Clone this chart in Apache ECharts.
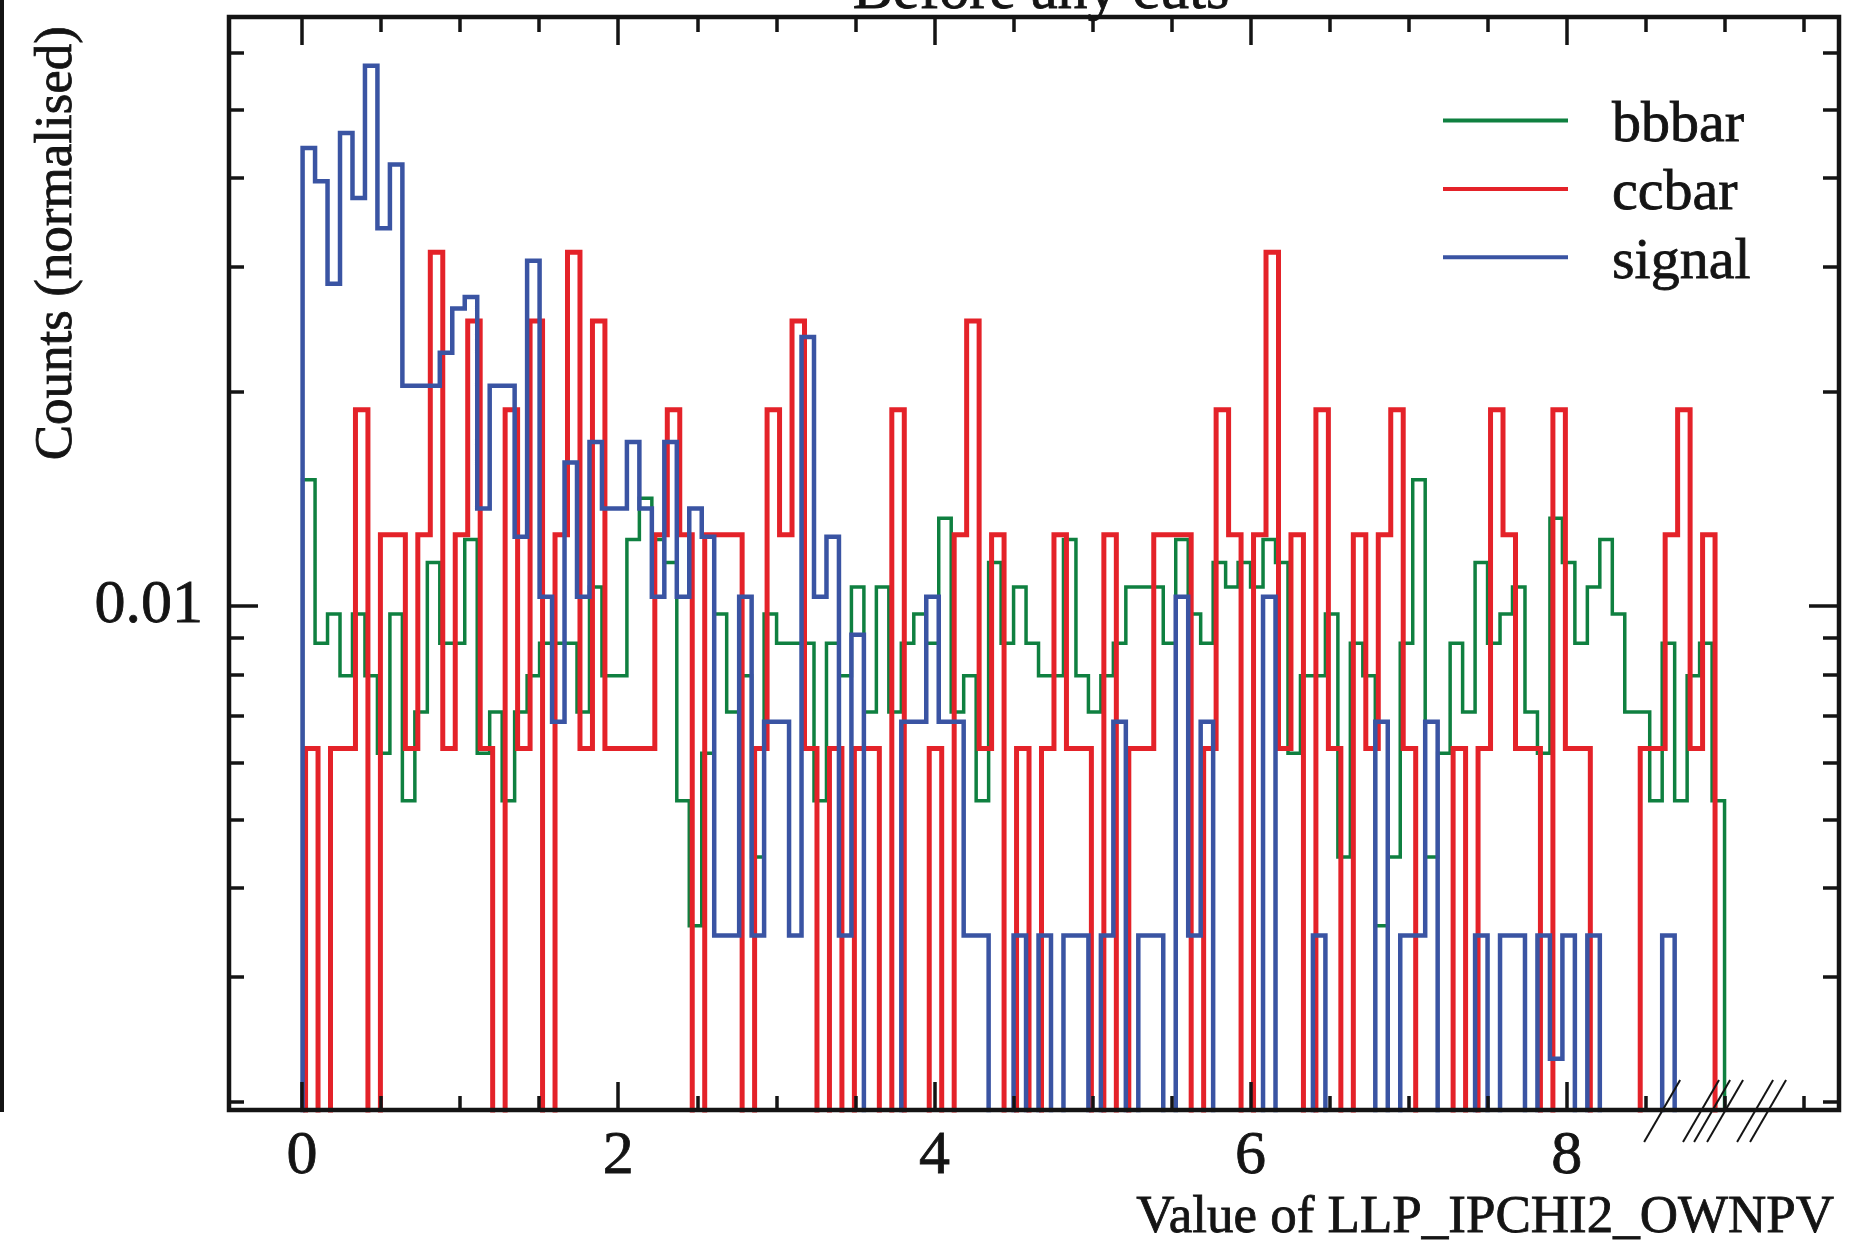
<!DOCTYPE html>
<html>
<head>
<meta charset="utf-8">
<style>
  html, body { margin: 0; padding: 0; background: #ffffff; }
  #chart { width: 1855px; height: 1249px; }
</style>
<script src="https://cdn.jsdelivr.net/npm/echarts@6/dist/echarts.min.js"></script>
</head>
<body>
<div id="chart"></div>
<script>
// ---- Histogram binning ----------------------------------------------------
const binWidth = 0.0789;
const bbbarStart = 0.0035;
const ccbarStart = 0.0223;
const signalStart = 0.0035;

// Entries per bin for the background samples (normalised to unit area below)
const bbbarCounts = [
  17, 10, 11, 9, 11, 9, 7, 11, 6, 8,
  13, 10, 10, 14, 7, 8, 6, 8, 9, 10,
  10, 10, 8, 12, 9, 9, 14, 16, 14, 13,
  6, 4, 7, 11, 8, 9, 5, 11, 10, 10,
  10, 6, 10, 9, 12, 8, 12, 8, 10, 11,
  10, 15, 8, 9, 6, 13, 10, 12, 10, 9,
  9, 14, 9, 8, 9, 10, 12, 12, 12, 10,
  14, 11, 10, 13, 12, 13, 12, 14, 13, 7,
  9, 9, 11, 5, 10, 9, 4, 5, 10, 17,
  5, 7, 10, 8, 13, 10, 11, 12, 8, 7,
  15, 13, 10, 12, 14, 11, 8, 8, 6, 10,
  6, 9, 10, 6
];
const ccbarCounts = [
  1, 0, 1, 1, 3, 0, 2, 2, 1, 2,
  5, 1, 2, 4, 1, 0, 3, 1, 4, 0,
  2, 5, 1, 4, 1, 1, 1, 1, 2, 3,
  2, 0, 2, 2, 2, 0, 1, 3, 2, 4,
  1, 0, 1, 0, 1, 1, 0, 3, 0, 0,
  1, 0, 2, 4, 1, 2, 0, 1, 0, 1,
  2, 1, 1, 0, 2, 0, 1, 1, 2, 2,
  2, 0, 1, 3, 2, 0, 2, 5, 1, 2,
  0, 3, 1, 0, 2, 1, 2, 3, 1, 0,
  0, 0, 1, 0, 1, 3, 2, 1, 1, 0,
  3, 1, 1, 0, 0, 0, 0, 1, 1, 2,
  3, 1, 2
];
// Weighted signal sample, already normalised
const signalValues = [
  0.0441, 0.0396, 0.0284, 0.0463, 0.0375, 0.0576, 0.0340, 0.0418, 0.0204, 0.0204,
  0.0204, 0.0227, 0.0262, 0.0272, 0.0137, 0.0204, 0.0204, 0.0125, 0.0306, 0.01029,
  0.00686, 0.0159, 0.01029, 0.0170, 0.0137, 0.0137, 0.0170, 0.0137, 0.01029, 0.0170,
  0.01029, 0.0137, 0.0125, 0.00343, 0.00343, 0.01029, 0.00343, 0.00686, 0.00686, 0.00343,
  0.0239, 0.01029, 0.0125, 0.00343, 0.0091, 0, 0, 0, 0.00686, 0.00686,
  0.01029, 0.00686, 0.00686, 0.00343, 0.00343, 0, 0, 0.00343, 0, 0.00343,
  0, 0.00343, 0.00343, 0, 0.00343, 0.00686, 0, 0.00343, 0.00343, 0,
  0.01029, 0.00343, 0.00686, 0, 0, 0, 0, 0.01029, 0, 0,
  0, 0.00343, 0, 0, 0, 0, 0.00686, 0, 0.00343, 0.00343,
  0.00686, 0, 0, 0, 0.00343, 0, 0.00343, 0.00343, 0, 0.00343,
  0.0023, 0.00343, 0, 0.00343, 0, 0, 0, 0, 0, 0.00343
];

const seriesNames = ['bbbar', 'ccbar', 'signal'];
const seriesColors = ['#0f8040', '#e42229', '#3a54a3'];

// ---- Axes -------------------------------------------------------------------
const xRange = [-0.462, 9.722];
const yRange = [0.001948, 0.06745];
const xMajorTicks = [0, 2, 4, 6, 8];
const xMinorTicks = [0, 0.5, 1, 1.5, 2, 2.5, 3, 3.5, 4, 4.5, 5, 5.5, 6, 6.5, 7, 7.5, 8, 8.5, 9, 9.5];
const yMajorTicks = [0.01];
const yMinorTicks = [0.002, 0.003, 0.004, 0.005, 0.006, 0.007, 0.008, 0.009, 0.02, 0.03, 0.04, 0.05, 0.06];

// Marks drawn under the axis near the end of the distributions
const breakMarks = [8.607, 8.853, 8.923, 9.005, 9.195, 9.277];

const FONT = '"Liberation Serif", "Times New Roman", "DejaVu Serif", serif';
const INK = '#141414';
const GRID = { left: 229, top: 17, width: 1610, height: 1093 };
// Zero-content bins drop below the visible range (clipped at the frame)
const FLOOR = yRange[0] / 10;
// Slight stroke on text to give the heavier serif look
const TEXT_WEIGHT = { textBorderColor: INK, textBorderWidth: 0.8 };

function normalise(counts) {
  const total = counts.reduce((a, b) => a + b, 0);
  return counts.map(c => c / total);
}

// Step outline of a histogram: rises from the floor at the first edge,
// falls back to the floor after the last bin.
function histOutline(start, values) {
  const pts = [[start, FLOOR]];
  values.forEach((v, i) => pts.push([start + i * binWidth, v > 0 ? v : FLOOR]));
  pts.push([start + values.length * binWidth, FLOOR]);
  return pts;
}

const histograms = [
  { start: bbbarStart, values: normalise(bbbarCounts), width: 3.5 },
  { start: ccbarStart, values: normalise(ccbarCounts), width: 5 },
  { start: signalStart, values: signalValues, width: 4.5 }
];

function tickStyle(len, ticks) {
  return {
    show: true, inside: true, length: len, customValues: ticks,
    lineStyle: { color: INK, width: 3.5 }
  };
}

function xAxisDef(position, ticks, len, labels) {
  return {
    type: 'value', position, min: xRange[0], max: xRange[1],
    axisLine: { show: false, onZero: false },
    splitLine: { show: false },
    axisTick: tickStyle(len, ticks),
    axisLabel: labels
      ? Object.assign({ show: true, customValues: xMajorTicks, margin: 16, fontFamily: FONT,
          fontSize: 62, lineHeight: 62, color: INK }, TEXT_WEIGHT)
      : { show: false },
    z: 10
  };
}

function yAxisDef(position, ticks, len, labels) {
  return {
    type: 'log', logBase: 10, position, min: yRange[0], max: yRange[1],
    axisLine: { show: false, onZero: false },
    splitLine: { show: false },
    axisTick: tickStyle(len, ticks),
    axisLabel: labels
      ? Object.assign({ show: true, customValues: yMajorTicks, margin: 26, fontFamily: FONT,
          fontSize: 62, lineHeight: 62, color: INK, formatter: v => String(v) }, TEXT_WEIGHT)
      : { show: false },
    z: 10
  };
}

const chart = echarts.init(document.getElementById('chart'), null, { renderer: 'canvas' });

const option = {
  animation: false,
  backgroundColor: '#ffffff',
  grid: { left: GRID.left, top: GRID.top, width: GRID.width, height: GRID.height, show: false },
  xAxis: [
    xAxisDef('bottom', xMajorTicks, 28, true),
    xAxisDef('bottom', xMinorTicks, 14, false),
    xAxisDef('top', xMajorTicks, 28, false),
    xAxisDef('top', xMinorTicks, 15, false)
  ],
  yAxis: [
    yAxisDef('left', yMajorTicks, 29, true),
    yAxisDef('left', yMinorTicks, 15, false),
    yAxisDef('right', yMajorTicks, 30, false),
    yAxisDef('right', yMinorTicks, 16, false)
  ],
  legend: {
    orient: 'vertical', left: 1443, top: 86.5, padding: 0, itemGap: 0,
    icon: 'rect', itemWidth: 125, itemHeight: 4, selectedMode: false,
    itemStyle: { borderWidth: 0 },
    formatter: name => '{t|' + name + '}',
    textStyle: {
      fontFamily: FONT, fontSize: 58, color: INK, padding: [0, 0, 0, 39],
      rich: {
        t: Object.assign({ fontFamily: FONT, fontSize: 58, lineHeight: 57, color: INK,
             padding: [10, 0, 0, 0] }, TEXT_WEIGHT)
      }
    },
    data: seriesNames
  },
  series: histograms.map((h, i) => ({
    name: seriesNames[i],
    type: 'line',
    xAxisIndex: 0, yAxisIndex: 0,
    step: 'end',
    showSymbol: false, symbol: 'none',
    clip: true,
    color: seriesColors[i],
    lineStyle: { color: seriesColors[i], width: h.width, join: 'miter', cap: 'butt' },
    data: histOutline(h.start, h.values),
    z: 2 + i
  })),
  graphic: [
    { id: 'frame', type: 'rect', z: 100,
      shape: { x: GRID.left, y: GRID.top, width: GRID.width, height: GRID.height },
      style: { fill: null, stroke: INK, lineWidth: 4.5 } },
    { id: 'edge', type: 'rect', z: 100,
      shape: { x: 0, y: 0, width: 4, height: GRID.top + GRID.height + 2 },
      style: { fill: INK } },
    { id: 'title', type: 'text', z: 100, x: 1041, y: -8,
      style: Object.assign({ text: 'Before any cuts', fontFamily: FONT, fontSize: 60, fill: INK,
               align: 'center', verticalAlign: 'middle' }, { stroke: INK, lineWidth: 0.8 }) },
    { id: 'xname', type: 'text', z: 100, x: 1834, y: 1218,
      style: { text: 'Value of LLP_IPCHI2_OWNPV', fontFamily: FONT, fontSize: 53, fill: INK,
               stroke: INK, lineWidth: 0.8, align: 'right', verticalAlign: 'middle' } },
    { id: 'yname', type: 'text', z: 100, x: 57, y: 26, rotation: Math.PI / 2,
      style: { text: 'Counts (normalised)', fontFamily: FONT, fontSize: 53, fill: INK,
               stroke: INK, lineWidth: 0.8, align: 'right', verticalAlign: 'middle' } }
  ]
};

chart.setOption(option);

// Short slanted strokes crossing the bottom axis
const axisY = GRID.top + GRID.height;
const marks = breakMarks.map((v, i) => {
  const px = chart.convertToPixel({ xAxisIndex: 0 }, v);
  return {
    id: 'mark' + i, type: 'line', z: 100,
    shape: { x1: px - 18.6, y1: axisY + 32, x2: px + 17.4, y2: axisY - 30 },
    style: { stroke: INK, lineWidth: 2 }
  };
});
chart.setOption({ graphic: marks });
</script>
</body>
</html>
